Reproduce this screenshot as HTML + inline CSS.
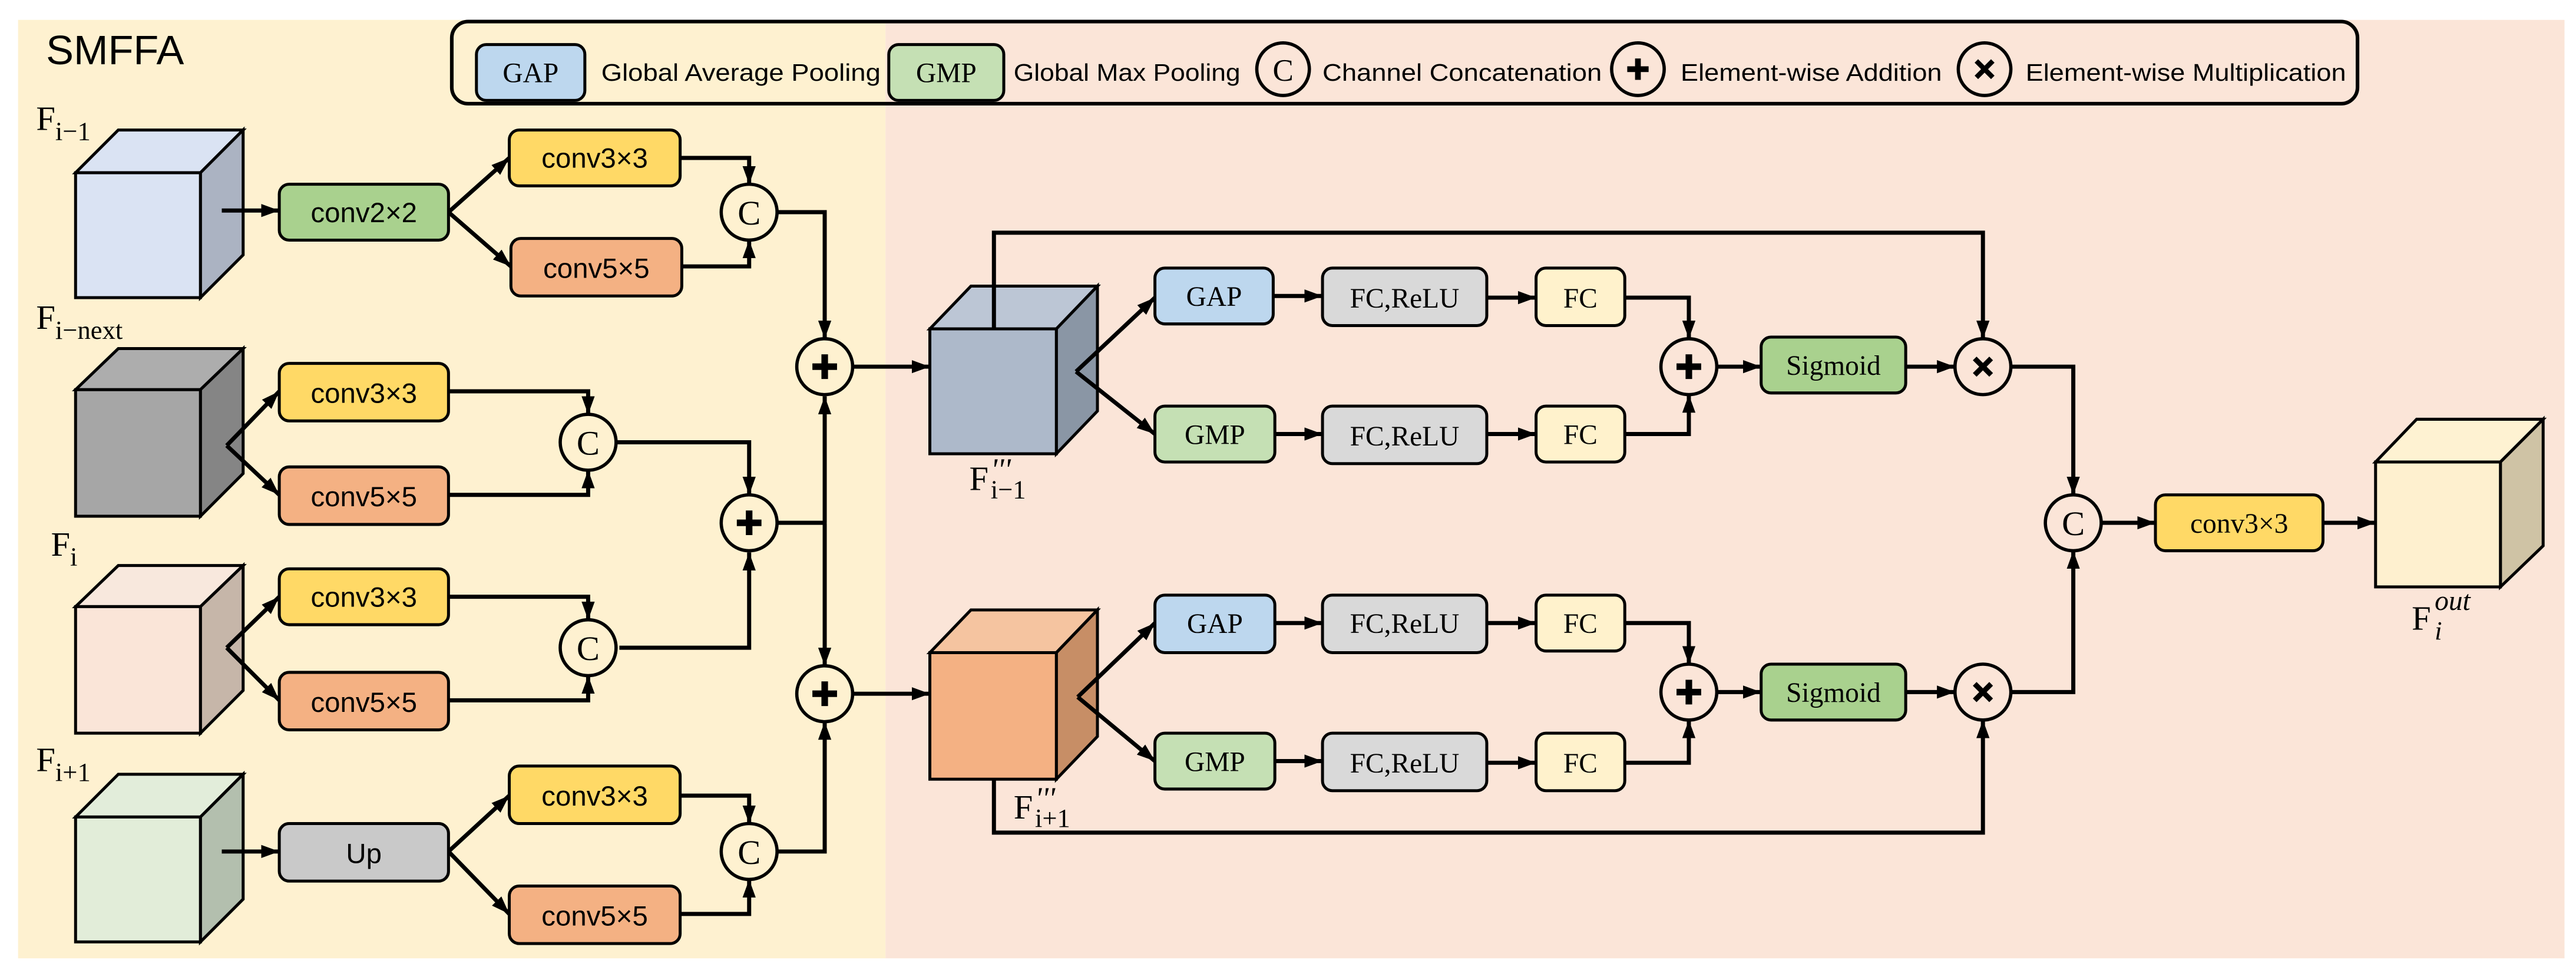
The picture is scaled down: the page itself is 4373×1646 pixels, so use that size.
<!DOCTYPE html>
<html><head><meta charset="utf-8"><style>
html,body{margin:0;padding:0;background:#fff;}
svg{display:block;}
.s{font-family:"Liberation Sans",sans-serif;}
.r{font-family:"Liberation Serif",serif;}
</style></head><body>
<svg width="4373" height="1646" viewBox="0 0 1568 590" xmlns="http://www.w3.org/2000/svg">
<defs>
<marker id="a" markerUnits="userSpaceOnUse" markerWidth="12" markerHeight="10" refX="11" refY="5" orient="auto">
<path d="M0,1 L11,5 L0,9 Z" fill="#000"/></marker>
</defs>
<rect x="0" y="0" width="1568" height="590" fill="#fff"/>
<rect x="11" y="12" width="528" height="571" fill="#FEF1D0"/>
<rect x="539" y="12" width="1022" height="571" fill="#FBE5D8"/>

<text x="28" y="39" class="s" font-size="25" textLength="84" lengthAdjust="spacingAndGlyphs">SMFFA</text>

<rect x="275" y="13" width="1160" height="50" rx="10" fill="none" stroke="#000" stroke-width="2.2"/>
<rect x="290" y="27" width="66" height="34" rx="6" fill="#BDD7EE" stroke="#000" stroke-width="1.8"/>
<text x="323" y="50" class="r" font-size="17" text-anchor="middle">GAP</text>
<text x="366" y="49" class="s" font-size="14.5" textLength="170" lengthAdjust="spacingAndGlyphs">Global Average Pooling</text>
<rect x="541" y="27" width="70" height="34" rx="6" fill="#C5E0B4" stroke="#000" stroke-width="1.8"/>
<text x="576" y="50" class="r" font-size="17" text-anchor="middle">GMP</text>
<text x="617" y="49" class="s" font-size="14.5" textLength="138" lengthAdjust="spacingAndGlyphs">Global Max Pooling</text>
<circle cx="781" cy="42" r="16" fill="none" stroke="#000" stroke-width="2"/>
<text x="781" y="49" class="r" font-size="19" text-anchor="middle">C</text>
<text x="805" y="49" class="s" font-size="14.5" textLength="170" lengthAdjust="spacingAndGlyphs">Channel Concatenation</text>
<circle cx="997" cy="42" r="16" fill="none" stroke="#000" stroke-width="2"/>
<path d="M990.5,42 H1003.5 M997,35.5 V48.5" stroke="#000" stroke-width="3.5"/>
<text x="1023" y="49" class="s" font-size="14.5" textLength="159" lengthAdjust="spacingAndGlyphs">Element-wise Addition</text>
<circle cx="1208" cy="42" r="16" fill="none" stroke="#000" stroke-width="2"/>
<path d="M1203,37 L1213,47 M1213,37 L1203,47" stroke="#000" stroke-width="3"/>
<text x="1233" y="49" class="s" font-size="14.5" textLength="195" lengthAdjust="spacingAndGlyphs">Element-wise Multiplication</text>

<g stroke="#000" stroke-width="1.8" stroke-linejoin="miter">
<polygon points="46,105 72,79 148,79 122,105" fill="#DAE3F3"/>
<polygon points="122,105 148,79 148,155 122,181" fill="#ABB3C2"/>
<rect x="46" y="105" width="76" height="76" fill="#DAE3F3"/>
<polygon points="46,237 72,212 148,212 122,237" fill="#ADADAD"/>
<polygon points="122,237 148,212 148,288 122,314" fill="#858585"/>
<rect x="46" y="237" width="76" height="77" fill="#A6A6A6"/>
<polygon points="46,369 72,344 148,344 122,369" fill="#F8E8DD"/>
<polygon points="122,369 148,344 148,420 122,446" fill="#C6B6A9"/>
<rect x="46" y="369" width="76" height="77" fill="#FAE5D8"/>
<polygon points="46,497 72,471 148,471 122,497" fill="#E2EDDA"/>
<polygon points="122,497 148,471 148,547 122,573" fill="#B3BFAE"/>
<rect x="46" y="497" width="76" height="76" fill="#E2EDD9"/>
<polygon points="566,200 591,174 668,174 643,200" fill="#BCC6D5"/>
<polygon points="643,200 668,174 668,250 643,276" fill="#8A96A5"/>
<rect x="566" y="200" width="77" height="76" fill="#ADB9CA"/>
<polygon points="566,397 591,371 668,371 643,397" fill="#F5C4A0"/>
<polygon points="643,397 668,371 668,448 643,474" fill="#C78E66"/>
<rect x="566" y="397" width="77" height="77" fill="#F4B183"/>
<polygon points="1446,281 1471,255 1548,255 1522,281" fill="#FEF2D2"/>
<polygon points="1522,281 1548,255 1548,332 1522,357" fill="#CFC3A5"/>
<rect x="1446" y="281" width="76" height="76" fill="#FEF0CF"/>
</g>

<g class="r" font-size="21">
<text x="22" y="79">F<tspan font-size="16" dy="6">i−1</tspan></text>
<text x="22" y="200">F<tspan font-size="16" dy="6">i−next</tspan></text>
<text x="31" y="338">F<tspan font-size="16" dy="6">i</tspan></text>
<text x="22" y="469">F<tspan font-size="16" dy="6">i+1</tspan></text>
<text x="590" y="298">F</text>
<text x="603" y="292" font-size="19" font-style="italic">'''</text>
<text x="603" y="303" font-size="16">i−1</text>
<text x="617" y="498">F</text>
<text x="630" y="492" font-size="19" font-style="italic">'''</text>
<text x="630" y="503" font-size="16">i+1</text>
<text x="1468" y="383">F</text>
<text x="1482" y="371" font-size="17" font-style="italic">out</text>
<text x="1482" y="389" font-size="16" font-style="italic">i</text>
</g>

<g stroke="#000" stroke-width="1.8">
<rect x="170" y="112" width="103" height="34" rx="6" fill="#A9D18E"/>
<rect x="310" y="79" width="104" height="34" rx="6" fill="#FFD966"/>
<rect x="311" y="145" width="104" height="35" rx="6" fill="#F4B183"/>
<rect x="170" y="221" width="103" height="35" rx="6" fill="#FFD966"/>
<rect x="170" y="284" width="103" height="35" rx="6" fill="#F4B183"/>
<rect x="170" y="346" width="103" height="34" rx="6" fill="#FFD966"/>
<rect x="170" y="409" width="103" height="35" rx="6" fill="#F4B183"/>
<rect x="170" y="501" width="103" height="35" rx="6" fill="#C9C9C9"/>
<rect x="310" y="466" width="104" height="35" rx="6" fill="#FFD966"/>
<rect x="310" y="539" width="104" height="35" rx="6" fill="#F4B183"/>

<rect x="703" y="163" width="72" height="34" rx="6" fill="#BDD7EE"/>
<rect x="703" y="247" width="73" height="34" rx="6" fill="#C5E0B4"/>
<rect x="805" y="163" width="100" height="35" rx="6" fill="#D9D9D9"/>
<rect x="805" y="247" width="100" height="35" rx="6" fill="#D9D9D9"/>
<rect x="935" y="163" width="54" height="35" rx="6" fill="#FFF2CC"/>
<rect x="935" y="247" width="54" height="34" rx="6" fill="#FFF2CC"/>
<rect x="703" y="362" width="73" height="35" rx="6" fill="#BDD7EE"/>
<rect x="703" y="446" width="73" height="34" rx="6" fill="#C5E0B4"/>
<rect x="805" y="362" width="100" height="35" rx="6" fill="#D9D9D9"/>
<rect x="805" y="446" width="100" height="35" rx="6" fill="#D9D9D9"/>
<rect x="935" y="362" width="54" height="34" rx="6" fill="#FFF2CC"/>
<rect x="935" y="446" width="54" height="35" rx="6" fill="#FFF2CC"/>
<rect x="1072" y="205" width="88" height="34" rx="6" fill="#A9D18E"/>
<rect x="1072" y="404" width="88" height="34" rx="6" fill="#A9D18E"/>
<rect x="1312" y="301" width="102" height="34" rx="6" fill="#FFD966"/>
</g>

<g class="s" font-size="17" text-anchor="middle">
<text x="221.5" y="135">conv2×2</text>
<text x="362" y="102">conv3×3</text>
<text x="363" y="169">conv5×5</text>
<text x="221.5" y="245">conv3×3</text>
<text x="221.5" y="308">conv5×5</text>
<text x="221.5" y="369">conv3×3</text>
<text x="221.5" y="433">conv5×5</text>
<text x="221.5" y="525">Up</text>
<text x="362" y="490">conv3×3</text>
<text x="362" y="563">conv5×5</text>
</g>
<g class="r" font-size="17" text-anchor="middle">
<text x="739" y="186">GAP</text>
<text x="739.5" y="270">GMP</text>
<text x="855" y="187">FC,ReLU</text>
<text x="855" y="271">FC,ReLU</text>
<text x="962" y="187">FC</text>
<text x="962" y="270">FC</text>
<text x="739.5" y="385">GAP</text>
<text x="739.5" y="469">GMP</text>
<text x="855" y="385">FC,ReLU</text>
<text x="855" y="470">FC,ReLU</text>
<text x="962" y="385">FC</text>
<text x="962" y="470">FC</text>
<text x="1116" y="228">Sigmoid</text>
<text x="1116" y="427">Sigmoid</text>
<text x="1363" y="324">conv3×3</text>
</g>

<g fill="none" stroke="#000" stroke-width="2.5" stroke-linejoin="miter">
<path d="M135,128 H170" marker-end="url(#a)"/>
<path d="M273,129 L310,96" marker-end="url(#a)"/>
<path d="M273,129 L311,162" marker-end="url(#a)"/>
<path d="M414,96 H456 V112" marker-end="url(#a)"/>
<path d="M415,162 H456 V146" marker-end="url(#a)"/>
<path d="M473,129 H502 V206" marker-end="url(#a)"/>

<path d="M138,271 L170,238" marker-end="url(#a)"/>
<path d="M138,271 L170,301" marker-end="url(#a)"/>
<path d="M273,238 H358 V252" marker-end="url(#a)"/>
<path d="M273,301 H358 V286" marker-end="url(#a)"/>
<path d="M375,269 H456 V301" marker-end="url(#a)"/>

<path d="M138,394 L170,363" marker-end="url(#a)"/>
<path d="M138,394 L170,426" marker-end="url(#a)"/>
<path d="M273,363 H358 V377" marker-end="url(#a)"/>
<path d="M273,426 H358 V411" marker-end="url(#a)"/>
<path d="M377,394 H456 V336" marker-end="url(#a)"/>

<path d="M473,318 H502"/>
<path d="M502,318 V241" marker-end="url(#a)"/>
<path d="M502,318 V405" marker-end="url(#a)"/>

<path d="M135,518 H170" marker-end="url(#a)"/>
<path d="M273,518 L310,484" marker-end="url(#a)"/>
<path d="M273,518 L310,556" marker-end="url(#a)"/>
<path d="M414,484 H456 V501" marker-end="url(#a)"/>
<path d="M414,556 H456 V535" marker-end="url(#a)"/>
<path d="M473,518 H502 V439" marker-end="url(#a)"/>

<path d="M519,223 H566" marker-end="url(#a)"/>
<path d="M519,422 H566" marker-end="url(#a)"/>

<path d="M605,200 V141.5 H1207 V206" marker-end="url(#a)"/>
<path d="M655,226 L703,181" marker-end="url(#a)"/>
<path d="M655,226 L703,264" marker-end="url(#a)"/>
<path d="M775,180 H805" marker-end="url(#a)"/>
<path d="M776,264 H805" marker-end="url(#a)"/>
<path d="M905,181 H935" marker-end="url(#a)"/>
<path d="M905,264 H935" marker-end="url(#a)"/>
<path d="M989,181 H1028 V206" marker-end="url(#a)"/>
<path d="M989,264 H1028 V240" marker-end="url(#a)"/>
<path d="M1045,223 H1072" marker-end="url(#a)"/>
<path d="M1160,223 H1190" marker-end="url(#a)"/>
<path d="M1224,223 H1262 V301" marker-end="url(#a)"/>

<path d="M656,424 L703,379" marker-end="url(#a)"/>
<path d="M656,424 L703,463" marker-end="url(#a)"/>
<path d="M776,379 H805" marker-end="url(#a)"/>
<path d="M776,463 H805" marker-end="url(#a)"/>
<path d="M905,379 H935" marker-end="url(#a)"/>
<path d="M905,464 H935" marker-end="url(#a)"/>
<path d="M989,379 H1028 V404" marker-end="url(#a)"/>
<path d="M989,464 H1028 V438" marker-end="url(#a)"/>
<path d="M1045,421 H1072" marker-end="url(#a)"/>
<path d="M1160,421 H1190" marker-end="url(#a)"/>
<path d="M605,474 V506.5 H1207 V438" marker-end="url(#a)"/>
<path d="M1224,421 H1262 V335" marker-end="url(#a)"/>

<path d="M1279,318 H1312" marker-end="url(#a)"/>
<path d="M1414,318 H1446" marker-end="url(#a)"/>
</g>

<g fill="#FEF1D0" stroke="#000" stroke-width="2">
<circle cx="456" cy="129" r="17"/>
<circle cx="358" cy="269" r="17"/>
<circle cx="358" cy="394" r="17"/>
<circle cx="456" cy="518" r="17"/>
<circle cx="502" cy="223" r="17"/>
<circle cx="456" cy="318" r="17"/>
<circle cx="502" cy="422" r="17"/>
</g>
<g fill="#FBE5D8" stroke="#000" stroke-width="2">
<circle cx="1028" cy="223" r="17"/>
<circle cx="1028" cy="421" r="17"/>
<circle cx="1207" cy="223" r="17"/>
<circle cx="1207" cy="421" r="17"/>
<circle cx="1262" cy="318" r="17"/>
</g>
<g class="r" font-size="21" text-anchor="middle">
<text x="456" y="136.5">C</text>
<text x="358" y="276.5">C</text>
<text x="358" y="401.5">C</text>
<text x="456" y="525.5">C</text>
<text x="1262" y="325.5">C</text>
</g>
<g stroke="#000" stroke-width="4">
<path d="M494.5,223 H509.5 M502,215.5 V230.5"/>
<path d="M448.5,318 H463.5 M456,310.5 V325.5"/>
<path d="M494.5,422 H509.5 M502,414.5 V429.5"/>
<path d="M1020.5,223 H1035.5 M1028,215.5 V230.5"/>
<path d="M1020.5,421 H1035.5 M1028,413.5 V428.5"/>
</g>
<g stroke="#000" stroke-width="3.2">
<path d="M1202,218 L1212,228 M1212,218 L1202,228"/>
<path d="M1202,416 L1212,426 M1212,416 L1202,426"/>
</g>
</svg>
</body></html>
